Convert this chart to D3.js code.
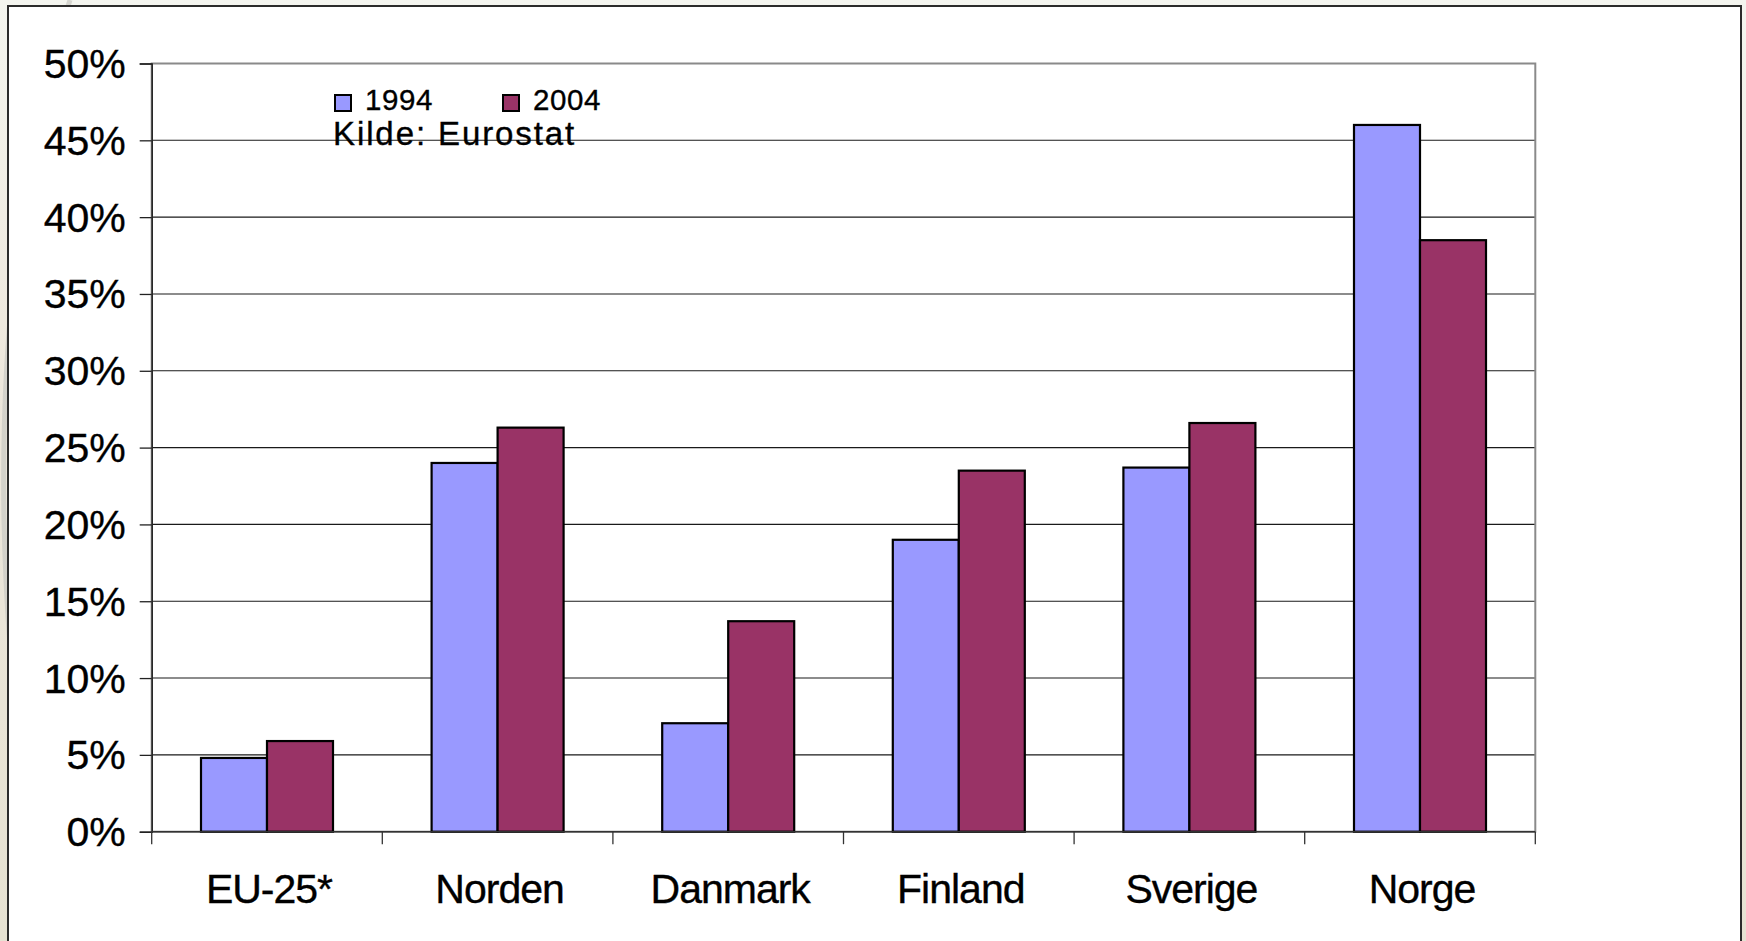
<!DOCTYPE html>
<html>
<head>
<meta charset="utf-8">
<script src="https://cdn.jsdelivr.net/npm/d3@7"></script>
<style>
  html, body { margin: 0; padding: 0; }
  body { width: 1746px; height: 941px; overflow: hidden; background: #ece7dc; }
  svg { display: block; font-family: "Liberation Sans", Arial, sans-serif; }
  .lbl { stroke: #000; stroke-width: 0.35px; }
</style>
</head>
<body>
<svg id="chart" width="1746" height="941"></svg>
<script>
// Share of the population (per cent) by country group, 1994 vs 2004
const categories = ["EU-25*", "Norden", "Danmark", "Finland", "Sverige", "Norge"];
const seriesNames = ["1994", "2004"];
const values1994 = [0.048, 0.240, 0.0706, 0.190, 0.237, 0.460];
const values2004 = [0.059, 0.263, 0.137, 0.235, 0.266, 0.385];
const yTicks = [0, 0.05, 0.10, 0.15, 0.20, 0.25, 0.30, 0.35, 0.40, 0.45, 0.50];
const sourceNote = "Kilde: Eurostat";

const colors = { "1994": "#9999ff", "2004": "#993366" };
const seriesValues = { "1994": values1994, "2004": values2004 };

const svg = d3.select("#chart");
const W = 1746, H = 941;

// Slide backdrop: soft beige gradient with a faint swoosh behind the frame
const defs = svg.append("defs");
const bg = defs.append("linearGradient").attr("id", "bg")
  .attr("x1", 0).attr("y1", 0).attr("x2", 0).attr("y2", 1);
bg.append("stop").attr("offset", "0%").attr("stop-color", "#f4f5ef");
bg.append("stop").attr("offset", "40%").attr("stop-color", "#ede7dc");
bg.append("stop").attr("offset", "100%").attr("stop-color", "#e6e2d2");
svg.append("rect").attr("width", W).attr("height", H).attr("fill", "url(#bg)");
svg.append("path")
  .attr("d", "M70,0 C30,120 0,300 4,520 C6,620 14,700 22,760")
  .attr("fill", "none").attr("stroke", "#c9c9c3").attr("stroke-width", 5).attr("opacity", 0.7);

// White chart frame
svg.append("rect")
  .attr("x", 8).attr("y", 6).attr("width", 1733).attr("height", 980)
  .attr("fill", "#ffffff").attr("stroke", "#2b2b2b").attr("stroke-width", 2);

// Plot area
const plot = { left: 151.7, right: 1535.3, top: 63.5, bottom: 831.7 };

const x = d3.scaleBand().domain(categories).range([plot.left, plot.right]).padding(0);
const xSub = d3.scaleBand().domain(seriesNames).range([0, x.bandwidth()])
  .paddingInner(0).paddingOuter(0.747);
const y = d3.scaleLinear().domain([0, 0.5]).range([plot.bottom, plot.top]);

// Gridlines
svg.append("g").selectAll("line").data(yTicks.slice(1, -1)).join("line")
  .attr("x1", plot.left).attr("x2", plot.right)
  .attr("y1", d => y(d)).attr("y2", d => y(d))
  .attr("stroke", "#1a1a1a").attr("stroke-width", 1.1);

// Plot area border (grey)
svg.append("rect")
  .attr("x", plot.left).attr("y", plot.top)
  .attr("width", plot.right - plot.left).attr("height", plot.bottom - plot.top)
  .attr("fill", "none").attr("stroke", "#8a8a8a").attr("stroke-width", 2);

// Bars
const groups = svg.append("g").selectAll("g").data(categories).join("g")
  .attr("transform", d => `translate(${x(d)},0)`);
groups.selectAll("rect")
  .data((c, i) => seriesNames.map(s => ({ s, v: seriesValues[s][i] })))
  .join("rect")
  .attr("x", d => xSub(d.s))
  .attr("y", d => y(d.v))
  .attr("width", xSub.bandwidth())
  .attr("height", d => y(0) - y(d.v))
  .attr("fill", d => colors[d.s])
  .attr("stroke", "#000").attr("stroke-width", 2.2);

// Y axis
const yAxis = svg.append("g").attr("transform", `translate(${plot.left},0)`)
  .call(d3.axisLeft(y).tickValues(yTicks).tickFormat(d3.format(".0%"))
    .tickSize(12).tickPadding(14));
yAxis.select(".domain").attr("stroke", "#222").attr("stroke-width", 1.5);
yAxis.selectAll(".tick line").attr("stroke", "#222").attr("stroke-width", 1.3);
yAxis.selectAll(".tick text")
  .attr("class", "lbl")
  .attr("font-size", 41).attr("fill", "#000").attr("dy", "0.34em")
  .attr("letter-spacing", "0px")
  .style("font-family", "'Liberation Sans', Arial, sans-serif");

// X axis: ticks at category boundaries, labels centred under each group
const xAxis = svg.append("g").attr("transform", `translate(0,${plot.bottom})`);
xAxis.append("line").attr("x1", plot.left).attr("x2", plot.right)
  .attr("stroke", "#333").attr("stroke-width", 1.5);
const boundaries = categories.map(c => x(c)).concat([plot.right]);
xAxis.selectAll(".bt").data(boundaries).join("line").attr("class", "bt")
  .attr("x1", d => d).attr("x2", d => d).attr("y1", 0).attr("y2", 12.5)
  .attr("stroke", "#333").attr("stroke-width", 1.3);
xAxis.selectAll("text").data(categories).join("text")
  .attr("class", "lbl")
  .attr("x", d => x(d) + x.bandwidth() / 2 + 2)
  .attr("y", 71.5)
  .attr("text-anchor", "middle")
  .attr("font-size", 41).attr("fill", "#000")
  .attr("letter-spacing", "-1px")
  .text(d => d);

// Legend and source note
const legend = svg.append("g");
const legendX = [335, 503];
seriesNames.forEach((s, i) => {
  legend.append("rect").attr("x", legendX[i]).attr("y", 95)
    .attr("width", 16).attr("height", 16)
    .attr("fill", colors[s]).attr("stroke", "#000").attr("stroke-width", 2);
  legend.append("text").attr("class", "lbl").attr("x", legendX[i] + 30).attr("y", 110)
    .attr("font-size", 29.5).attr("fill", "#000").attr("letter-spacing", "0.6px")
    .text(s);
});
legend.append("text").attr("class", "lbl").attr("x", 333).attr("y", 145)
  .attr("font-size", 33).attr("fill", "#000").attr("letter-spacing", "1.9px")
  .text(sourceNote);
</script>
</body>
</html>
